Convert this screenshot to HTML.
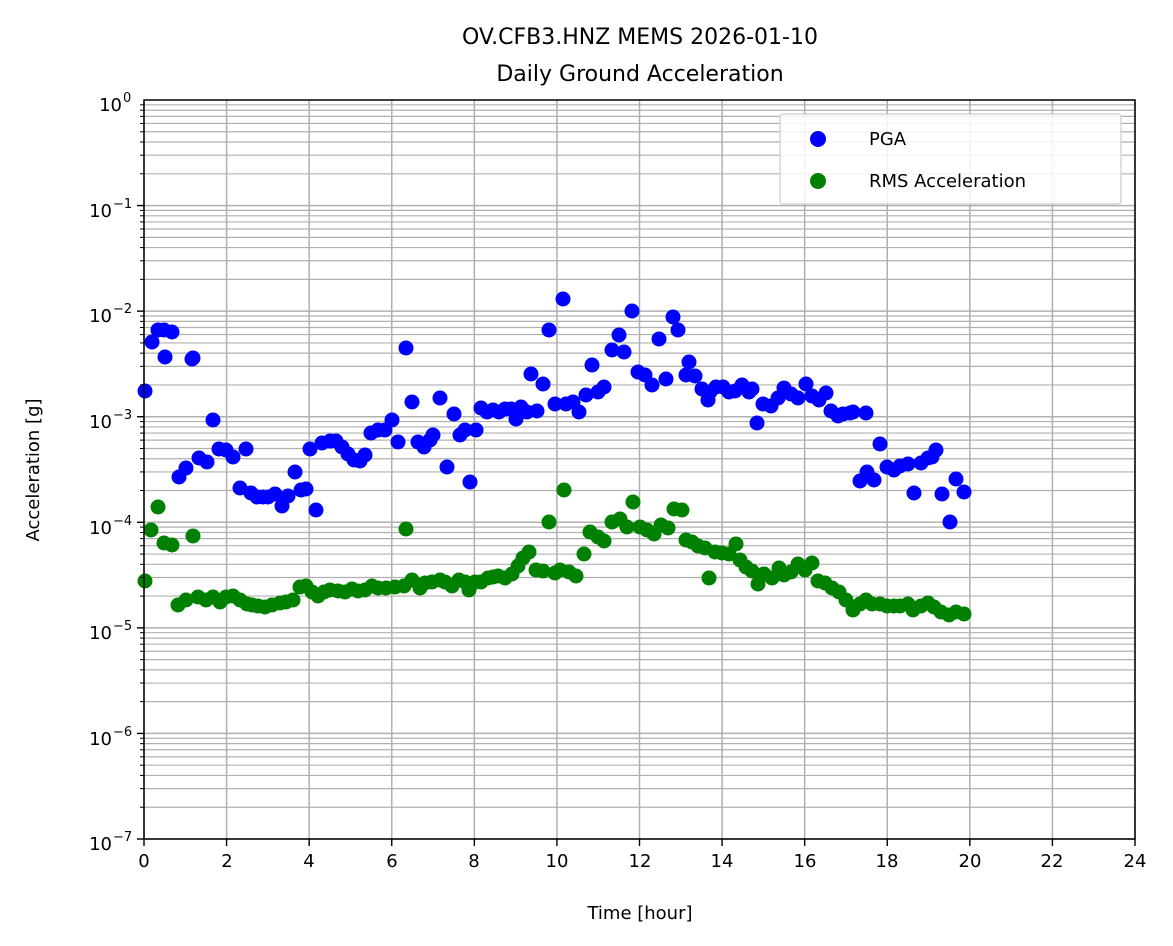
<!DOCTYPE html>
<html><head><meta charset="utf-8"><style>
body{margin:0;background:#fff}
svg{display:block;font-family:"DejaVu Sans","Liberation Sans",sans-serif}
</style></head><body>
<svg id="s" width="1173" height="946" xmlns="http://www.w3.org/2000/svg">
<rect width="1173" height="946" fill="#fff"/>
<g id="grid"></g>
<g id="pts"></g>
<rect x="144" y="100" width="991" height="739" fill="none" stroke="#000" stroke-width="1.5"/>
<g id="ticks"></g>
<text x="640" y="44" text-anchor="middle" font-size="22">OV.CFB3.HNZ MEMS 2026-01-10</text>
<text x="640" y="81" text-anchor="middle" font-size="22">Daily Ground Acceleration</text>
<text x="640" y="919" text-anchor="middle" font-size="18">Time [hour]</text>
<text transform="translate(39,470) rotate(-90)" text-anchor="middle" font-size="18">Acceleration [g]</text>
<g font-size="18" text-anchor="middle">
<text x="144" y="867">0</text><text x="227" y="867">2</text><text x="309" y="867">4</text><text x="392" y="867">6</text><text x="474" y="867">8</text><text x="557" y="867">10</text><text x="640" y="867">12</text><text x="722" y="867">14</text><text x="805" y="867">16</text><text x="887" y="867">18</text><text x="970" y="867">20</text><text x="1052" y="867">22</text><text x="1135" y="867">24</text>
</g>
<g font-size="18" text-anchor="end">
<text x="122" y="111">10</text><text x="112" y="217">10</text><text x="112" y="322">10</text><text x="112" y="428">10</text><text x="112" y="534">10</text><text x="112" y="639">10</text><text x="112" y="745">10</text><text x="112" y="850">10</text>
</g>
<g font-size="13" text-anchor="start">
<text x="123" y="102">0</text><text x="113" y="208">−1</text><text x="113" y="313">−2</text><text x="113" y="419">−3</text><text x="113" y="525">−4</text><text x="113" y="630">−5</text><text x="113" y="736">−6</text><text x="113" y="841">−7</text>
</g>
<rect x="780" y="114" width="341" height="90" rx="3" fill="#fff" fill-opacity="0.85" stroke="#ccc" stroke-width="1.2"/>
<circle cx="818" cy="139" r="8" fill="#0000ff"/>
<circle cx="818" cy="181" r="8" fill="#008000"/>
<text x="869" y="145" font-size="18">PGA</text>
<text x="869" y="187" font-size="18">RMS Acceleration</text>
</svg>
<script>
const NS="http://www.w3.org/2000/svg";
function el(p,t,a){const e=document.createElementNS(NS,t);for(const k in a)e.setAttribute(k,a[k]);p.appendChild(e);return e;}
const g=document.getElementById('grid'),tk=document.getElementById('ticks'),P=document.getElementById('pts');
const dec=739/7;
for(let d=0;d<7;d++){for(let m=1;m<=9;m++){const y=100+(d+1)*dec-Math.log10(m)*dec;
el(g,'line',{x1:144,x2:1135,y1:y,y2:y,stroke:'#b0b0b0','stroke-width':m==1?1.5:1.2});
el(tk,'line',{x1:m==1?137:140,x2:144,y1:y,y2:y,stroke:'#000','stroke-width':m==1?1.4:1});}}
for(let h=0;h<=24;h+=2){const x=144+h*991/24;el(g,'line',{x1:x,x2:x,y1:100,y2:839,stroke:'#b0b0b0','stroke-width':1.5});
el(tk,'line',{x1:x,x2:x,y1:839,y2:846,stroke:'#000','stroke-width':1.4});}
const A=[[145,391],[152,342],[158,330],[164,330],[165,357],[172,332],[192,359],[193,358],[179,477],[186,468],[199,458],[207,462],[213,420],[219,449],[226,450],[233,457],[240,488],[246,449],[251,493],[257,497],[263,497],[268,497],[275,494],[282,506],[288,496],[295,472],[301,490],[306,489],[310,449],[316,510],[322,443],[330,441],[336,441],[342,447],[348,454],[354,460],[360,461],[365,455],[371,433],[378,430],[385,430],[392,420],[398,442],[406,348],[412,402],[418,442],[424,447],[430,440],[433,435],[440,398],[447,467],[454,414],[460,435],[465,430],[470,482],[476,430],[481,408],[487,412],[493,410],[499,412],[505,409],[511,409],[516,419],[521,407],[527,412],[531,374],[537,411],[543,384],[549,330],[555,404],[563,299],[566,404],[573,402],[579,412],[586,395],[592,365],[598,392],[604,387],[612,350],[619,335],[624,352],[632,311],[638,372],[645,375],[652,385],[659,339],[666,379],[673,317],[678,330],[686,375],[689,362],[695,376],[702,389],[708,400],[710,392],[716,387],[723,387],[729,392],[735,391],[742,385],[749,392],[752,389],[757,423],[763,404],[771,406],[778,398],[784,388],[791,394],[798,398],[806,384],[812,396],[819,400],[826,393],[831,411],[838,416],[843,414],[850,413],[853,412],[860,481],[867,472],[874,480],[866,413],[880,444],[887,467],[894,470],[900,466],[908,464],[914,493],[921,463],[928,458],[932,457],[936,450],[942,494],[950,522],[956,479],[964,492]];
const B=[[145,581],[151,530],[158,507],[164,543],[172,545],[193,536],[178,605],[186,600],[198,597],[206,600],[213,597],[220,602],[226,597],[233,596],[240,600],[247,604],[252,605],[258,606],[265,607],[272,605],[280,603],[286,602],[293,600],[300,587],[306,586],[312,592],[318,596],[324,592],[330,590],[338,591],[345,592],[352,589],[358,591],[365,590],[372,586],[378,588],[386,588],[395,587],[404,586],[406,529],[412,580],[420,588],[425,583],[432,582],[440,580],[445,582],[452,586],[459,580],[465,582],[469,590],[475,582],[481,582],[488,578],[493,577],[498,576],[505,578],[512,574],[518,566],[523,558],[529,552],[536,570],[543,571],[549,522],[555,573],[560,570],[564,490],[569,572],[576,576],[584,554],[590,532],[598,537],[604,541],[612,522],[620,519],[627,527],[633,502],[640,527],[647,530],[654,534],[661,525],[668,528],[674,509],[682,510],[686,540],[692,542],[698,546],[705,548],[709,578],[715,552],[722,553],[729,554],[736,544],[740,560],[746,567],[752,571],[758,584],[764,574],[772,578],[779,568],[784,575],[791,572],[798,564],[805,570],[812,563],[818,581],[825,583],[832,588],[839,592],[846,600],[853,610],[860,604],[866,600],[872,604],[880,604],[887,606],[894,606],[900,606],[908,604],[913,610],[921,606],[928,603],[934,607],[941,612],[949,615],[956,612],[964,614]];
A.forEach(p=>el(P,'circle',{cx:p[0],cy:p[1],r:7.5,fill:'#0000ff'}));
B.forEach(p=>el(P,'circle',{cx:p[0],cy:p[1],r:7.5,fill:'#008000'}));
</script>
</body></html>
